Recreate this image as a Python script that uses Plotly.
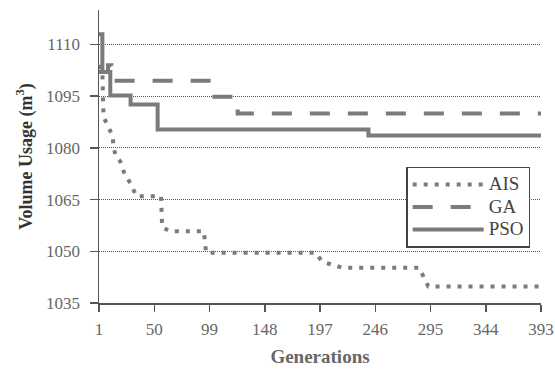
import plotly.graph_objects as go

# ---- data ----
x_ticks = [1, 50, 99, 148, 197, 246, 295, 344, 393]
y_ticks = [1035, 1050, 1065, 1080, 1095, 1110]

ais_gen = [1, 4, 5, 9, 13, 14, 16, 20, 23, 30, 34, 56, 57, 64, 94, 96, 193, 199, 217, 285, 289, 293, 393]
ais_val = [1104, 1102, 1089, 1086, 1083.5, 1080, 1077.5, 1076, 1073, 1069, 1066, 1066, 1057, 1055.8, 1055.8,
           1049.6, 1049.6, 1047, 1045.2, 1045.2, 1042.3, 1039.8, 1039.8]

ga_gen = [1, 9, 12, 101, 124, 393]
ga_val = [1102, 1104, 1099.5, 1094.8, 1090, 1090]

pso_gen = [1, 4, 11, 29, 53, 240, 393]
pso_val = [1113, 1102, 1095.2, 1092.6, 1085.3, 1083.6, 1083.6]

series_names = ["AIS", "GA", "PSO"]

LINE = "#7b7b7b"
FONT = "Liberation Serif"


def legend_label(s):
    return "<span style='font-size:19px'>%s</span>" % s


fig = go.Figure()
fig.add_trace(go.Scatter(x=ais_gen, y=ais_val, name=legend_label(series_names[0]), mode="lines",
                         line=dict(color=LINE, width=4, dash="4px,7px")))
fig.add_trace(go.Scatter(x=ga_gen, y=ga_val, name=legend_label(series_names[1]), mode="lines",
                         line_shape="hv", line=dict(color=LINE, width=4, dash="20px,18px")))
fig.add_trace(go.Scatter(x=pso_gen, y=pso_val, name=legend_label(series_names[2]), mode="lines",
                         line_shape="hv", line=dict(color=LINE, width=4)))

fig.update_layout(
    width=555, height=372,
    margin=dict(l=99, r=14, t=10, b=69),
    paper_bgcolor="white", plot_bgcolor="white",
    font=dict(family=FONT, size=17, color="#555"),
    showlegend=True,
    hovermode=False,
    legend=dict(x=0.695, y=0.465, xanchor="left", yanchor="top",
                bgcolor="white", bordercolor="#444", borderwidth=1.5,
                font=dict(family=FONT, size=15, color="#444"),
                itemwidth=71, tracegroupgap=0),
    xaxis=dict(range=[1, 393], tickvals=x_ticks, ticktext=[str(v) for v in x_ticks],
               showgrid=False, zeroline=False,
               showline=True, linecolor="#555", linewidth=1.5,
               ticks="outside", ticklen=7, tickcolor="#555", tickwidth=1.5,
               ticklabelstandoff=3,
               tickfont=dict(family=FONT, size=17, color="#666"),
               title=dict(text="<b>Generations</b>", standoff=12,
                          font=dict(family=FONT, size=19, color="#666")),
               automargin=False),
    yaxis=dict(range=[1035, 1120], tickvals=y_ticks, ticktext=[str(v) for v in y_ticks],
               showgrid=True, gridcolor="#555", gridwidth=1, griddash="1px,1px",
               zeroline=False,
               showline=True, linecolor="#555", linewidth=1.5,
               ticks="outside", ticklen=8, tickcolor="#555", tickwidth=1.5,
               ticklabelstandoff=6,
               tickfont=dict(family=FONT, size=17, color="#666"),
               title=dict(text="<b>Volume Usage (m<sup>3</sup>)</b>", standoff=9,
                          font=dict(family=FONT, size=18, color="#333")),
               automargin=False),
)

fig.write_html("out.html",
               config={"displayModeBar": False, "staticPlot": True},
               post_script="document.body.style.margin='0';document.body.style.overflow='hidden';")
